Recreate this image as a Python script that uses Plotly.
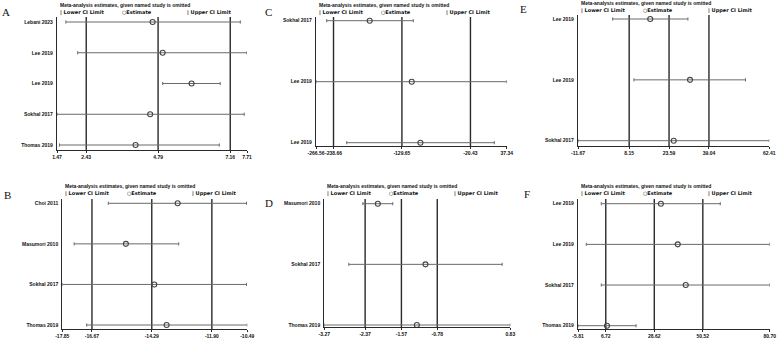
import plotly.graph_objects as go

W, H = 777, 339

# ---------------- data ----------------
A_studies = ["Lebani 2023", "Lee 2019", "Lee 2019", "Sokhal 2017", "Thomas 2019"]
A_est = [4.61, 4.94, 5.89, 4.53, 4.05]
A_low = [1.76, 2.15, 4.94, 1.47, 1.55]
A_up = [7.49, 7.71, 6.83, 7.62, 6.80]
A_ticks = [1.47, 2.43, 4.79, 7.16, 7.71]

B_studies = ["Choi 2011", "Masumori 2010", "Sokhal 2017", "Thomas 2019"]
B_est = [-13.26, -15.32, -14.19, -13.70]
B_low = [-16.02, -17.38, -17.85, -16.88]
B_up = [-10.52, -13.22, -10.52, -10.49]
B_ticks = [-17.85, -16.67, -14.29, -11.90, -10.49]

C_studies = ["Sokhal 2017", "Lee 2019", "Lee 2019"]
C_est = [-181.0, -114.0, -100.2]
C_low = [-249.5, -266.56, -217.6]
C_up = [-111.5, 37.34, 17.6]
C_ticks = [-266.56, -238.66, -129.65, -20.43, 37.34]

D_studies = ["Masumori 2010", "Sokhal 2017", "Thomas 2019"]
D_est = [-2.09, -1.04, -1.23]
D_low = [-2.42, -2.73, -3.27]
D_up = [-1.76, 0.65, 0.83]
D_ticks = [-3.27, -2.37, -1.57, -0.78, 0.83]

E_studies = ["Lee 2019", "Lee 2019", "Sokhal 2017"]
E_est = [16.3, 31.7, 25.4]
E_low = [1.75, 10.0, -11.67]
E_up = [30.9, 53.2, 62.41]
E_ticks = [-11.67, 8.15, 23.59, 39.04, 62.41]

F_studies = ["Lee 2019", "Lee 2019", "Sokhal 2017", "Thomas 2019"]
F_est = [31.6, 39.2, 42.8, 7.28]
F_low = [4.7, -2.06, 4.7, -5.81]
F_up = [58.4, 80.70, 80.70, 20.4]
F_ticks = [-5.81, 6.72, 28.62, 50.52, 80.70]

TITLE = "Meta-analysis estimates, given named study is omitted"

panels = [
    ("A", A_studies, A_est, A_low, A_up, A_ticks),
    ("C", C_studies, C_est, C_low, C_up, C_ticks),
    ("E", E_studies, E_est, E_low, E_up, E_ticks),
    ("B", B_studies, B_est, B_low, B_up, B_ticks),
    ("D", D_studies, D_est, D_low, D_up, D_ticks),
    ("F", F_studies, F_est, F_low, F_up, F_ticks),
]

# ---------------- layout (pixel boxes) ----------------
# x0, x1, plot top, plot bottom, first row px, last row px, title y, letter x, letter y
geom = {
    "A": (57, 247, 17, 150, 22, 145, 5, 6, 12),
    "C": (316, 506.7, 17, 146, 20.7, 142.7, 5, 268, 12),
    "E": (578, 769.3, 15, 146, 19, 140.7, 3.3, 523, 9),
    "B": (62.3, 247.3, 199, 329, 203.3, 325, 186, 7, 195),
    "D": (324.3, 510.3, 199, 327, 203.7, 325, 186, 269, 203),
    "F": (578, 769.7, 199, 329, 203.7, 325.7, 186, 527, 194),
}

def px(x):
    return x / W

def py(y):
    return 1 - y / H

LINE = "#2a2a2a"
CI = "#6a6a6a"
FONT = "Liberation Sans"

fig = go.Figure()
layout = {}
annotations = []
shapes = []

for i, (letter, studies, est, low, up, ticks) in enumerate(panels):
    x0, x1, yt, yb, r0, r1, ty, lx, ly = geom[letter]
    n = len(studies)
    sp = (r1 - r0) / (n - 1)
    yrange = [(n - 1) + (yb - r1) / sp, -(r0 - yt) / sp]
    k = "" if i == 0 else str(i + 1)
    xa, ya = "x" + k, "y" + k
    rows = list(range(n))
    fig.add_trace(go.Scatter(
        x=est, y=rows, xaxis=xa, yaxis=ya, mode="markers",
        marker=dict(symbol="circle-open", size=5, color="#444", line=dict(width=1.1, color="#444")),
        error_x=dict(type="data", symmetric=False,
                     array=[u - e for u, e in zip(up, est)],
                     arrayminus=[e - l for e, l in zip(est, low)],
                     color=CI, thickness=1, width=1.6),
        showlegend=False, hoverinfo="skip", cliponaxis=False))
    layout["xaxis" + k] = dict(
        domain=[px(x0), px(x1)], anchor=ya, range=[ticks[0], ticks[-1]],
        tickmode="array", tickvals=ticks, ticktext=["%.2f" % t for t in ticks],
        tickangle=0, showline=True, linecolor=LINE, linewidth=1, ticks="outside",
        ticklen=2, tickcolor=LINE, tickwidth=1, showgrid=False, zeroline=False,
        tickfont=dict(family=FONT, size=5, color="#111", weight="bold"),
        automargin=False, fixedrange=True)
    layout["yaxis" + k] = dict(
        domain=[py(yb), py(yt)], anchor=xa, range=yrange,
        tickmode="array", tickvals=rows, ticktext=studies,
        showline=True, linecolor=LINE, linewidth=1.2, ticks="", showgrid=False,
        zeroline=False, tickfont=dict(family=FONT, size=5, color="#111", weight="bold"),
        ticklabelstandoff=2, automargin=False, fixedrange=True)
    # overall lower CI, estimate, upper CI reference lines
    for t in ticks[1:4]:
        shapes.append(dict(type="line", xref=xa, yref=ya + " domain", x0=t, x1=t, y0=0, y1=1,
                           line=dict(color=LINE, width=1.4), layer="below"))
    # title
    annotations.append(dict(text=TITLE, x=px(x0 + 1), y=py(ty), xref="paper", yref="paper",
                            xanchor="left", yanchor="middle", showarrow=False,
                            font=dict(family=FONT, size=5, color="#111", weight="bold")))
    # legend row
    for off, txt in [(0, "| Lower CI Limit"), (62, "○Estimate"), (127, "| Upper CI Limit")]:
        annotations.append(dict(text=txt, x=px(x0 + 1 + off), y=py(ty + 7), xref="paper", yref="paper",
                                xanchor="left", yanchor="middle", showarrow=False,
                                font=dict(family="DejaVu Sans", size=5, color="#111", weight="bold")))
    # panel letter
    annotations.append(dict(text=letter, x=px(lx), y=py(ly), xref="paper", yref="paper",
                            xanchor="center", yanchor="middle", showarrow=False,
                            font=dict(family="Liberation Serif", size=11, color="#111")))

fig.update_layout(
    width=W, height=H, margin=dict(l=0, r=0, t=0, b=0),
    paper_bgcolor="white", plot_bgcolor="white",
    annotations=annotations, shapes=shapes, **layout)

fig.write_html("out.html", config={"displayModeBar": False},
               post_script="document.body.style.margin='0';document.body.style.overflow='hidden';")
